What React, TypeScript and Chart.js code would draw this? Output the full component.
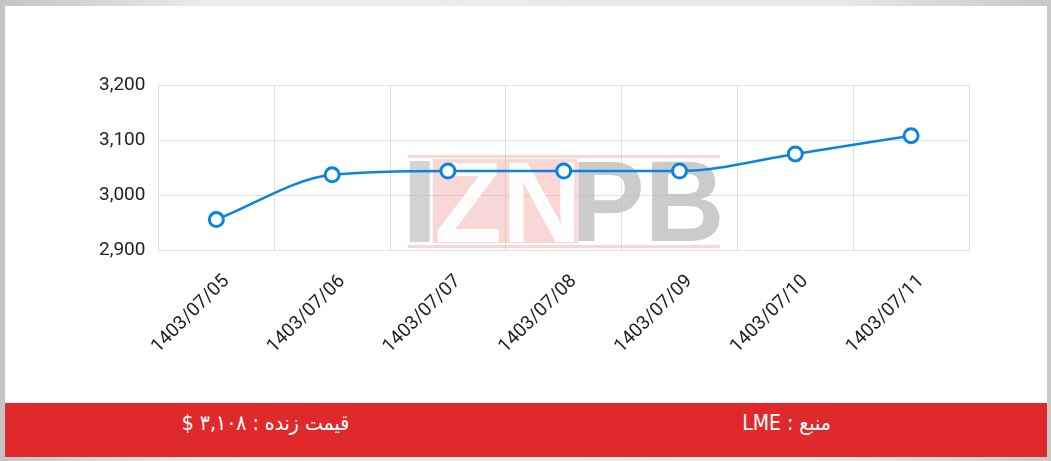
import React, { useEffect, useRef } from "react";
import { Chart, registerables } from "chart.js";

Chart.register(...registerables);

const categories = [
  "1403/07/05",
  "1403/07/06",
  "1403/07/07",
  "1403/07/08",
  "1403/07/09",
  "1403/07/10",
  "1403/07/11",
];
const prices = [2956, 3037, 3044, 3044, 3044, 3075, 3108];
const yMin = 2900;
const yMax = 3200;
const yStep = 100;
const liveLabel = "قیمت زنده : ۳,۱۰۸ $";
const sourceLabel = "منبع : LME";

const BLUE = "#0a84e0";
const GRID = "#e0e0e0";

function fitText(ctx: CanvasRenderingContext2D, text: string, x: number, y: number, w: number, h: number, color: string) {
  ctx.save();
  ctx.font = "bold 100px 'Liberation Sans', Arial, sans-serif";
  ctx.textBaseline = "alphabetic";
  ctx.textAlign = "left";
  const m = ctx.measureText(text);
  const tw = m.actualBoundingBoxLeft + m.actualBoundingBoxRight;
  const th = m.actualBoundingBoxAscent + m.actualBoundingBoxDescent;
  const sx = w / tw;
  const sy = h / th;
  ctx.translate(x, y + h);
  ctx.scale(sx, sy);
  ctx.fillStyle = color;
  ctx.fillText(text, m.actualBoundingBoxLeft, -m.actualBoundingBoxDescent);
  ctx.restore();
}

const watermark = {
  id: "watermark",
  beforeDatasetsDraw(chart: any) {
    const { ctx, chartArea } = chart;
    const cx = (chartArea.left + chartArea.right) / 2;
    const x0 = cx - 156;
    const y0 = chartArea.top + 70;
    ctx.save();
    ctx.globalAlpha = 0.85;
    ctx.fillStyle = "rgba(240,150,150,0.45)";
    ctx.fillRect(x0, y0, 312, 3);
    ctx.fillRect(x0, y0 + 90, 312, 3);
    ctx.fillRect(x0 + 25, y0 + 4, 145, 84);
    ctx.fillStyle = "rgba(190,190,190,0.8)";
    ctx.fillRect(x0 + 2, y0 + 6, 20, 81);
    ctx.restore();
    fitText(ctx, "ZN", x0 + 29, y0 + 6, 138, 81, "rgba(255,255,255,0.95)");
    fitText(ctx, "PB", x0 + 170, y0 + 6, 142, 81, "rgba(185,185,185,0.75)");
  },
};

export default function App() {
  const ref = useRef<HTMLCanvasElement | null>(null);

  useEffect(() => {
    document.body.style.margin = "0";
    document.body.style.background = "#e4e4e4";
    if (!ref.current) return;
    const chart = new Chart(ref.current, {
      type: "line",
      data: {
        labels: categories,
        datasets: [
          {
            data: prices,
            borderColor: BLUE,
            borderWidth: 2.5,
            cubicInterpolationMode: "monotone",
            pointRadius: 7,
            pointHoverRadius: 7,
            pointBorderWidth: 3,
            pointBackgroundColor: "#ffffff",
            pointBorderColor: BLUE,
            fill: false,
          },
        ],
      },
      options: {
        animation: false,
        responsive: false,
        maintainAspectRatio: false,
        layout: { padding: { left: 81, right: 78, top: 79, bottom: 25 } },
        plugins: { legend: { display: false }, tooltip: { enabled: false } },
        scales: {
          x: {
            offset: true,
            grid: { offset: true, color: GRID, drawTicks: false },
            border: { color: GRID },
            ticks: {
              minRotation: 45,
              maxRotation: 45,
              padding: 20,
              labelOffset: 10,
              color: "#222",
              font: { family: "Roboto", size: 19 },
            },
          },
          y: {
            min: yMin,
            max: yMax,
            grid: { color: GRID, drawTicks: false },
            border: { color: GRID },
            ticks: {
              stepSize: yStep,
              padding: 13,
              color: "#222",
              font: { family: "Roboto", size: 19 },
            },
          },
        },
      },
      plugins: [watermark],
    });
    return () => chart.destroy();
  }, []);

  return (
    <div
      style={{
        position: "relative",
        width: 1051,
        height: 461,
        background: "linear-gradient(90deg, #c4c4c4 0%, #ececec 20%, #e8e8e8 80%, #c8c8c8 100%)",
        overflow: "hidden",
      }}
    >
      <div
        style={{
          position: "absolute",
          left: 5,
          top: 6,
          width: 1042,
          height: 451,
          background: "#ffffff",
        }}
      >
        <canvas ref={ref} width={1042} height={397} style={{ display: "block", width: 1042, height: 397 }} />
        <div
          dir="rtl"
          style={{
            display: "flex",
            height: 54,
            background: "#e0292b",
            color: "#ffffff",
            fontFamily: "'DejaVu Sans Condensed', 'DejaVu Sans', sans-serif",
            fontSize: 21,
            lineHeight: "26px",
          }}
        >
          <div style={{ flex: 1, textAlign: "center", paddingTop: 7 }}>{sourceLabel}</div>
          <div style={{ flex: 1, textAlign: "center", paddingTop: 7 }}>{liveLabel}</div>
        </div>
      </div>
    </div>
  );
}
